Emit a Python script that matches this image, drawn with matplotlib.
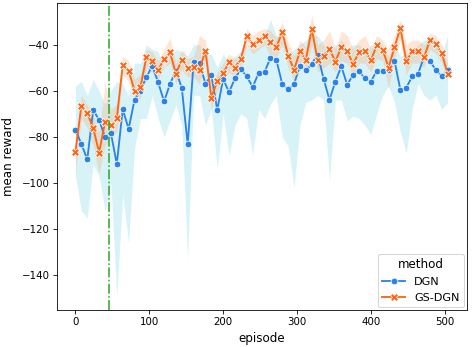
import numpy as np
import matplotlib
matplotlib.use("Agg")
import matplotlib.pyplot as plt

# episodes sampled every 8
episodes = np.arange(0, 505, 8)

# DGN mean / band
dgn_mean = [-77, -83, -89.7, -68.3, -72.6, -80, -78.4, -91.7, -68, -76.5,
            -63.9, -59.9, -54.2, -49.1, -56.4, -64.6, -57.1, -51.3, -58.8, -83.2,
            -47.7, -48, -57, -53.2, -68.3, -54.9, -60.6, -54.6, -50.6, -53.8,
            -58.4, -52.3, -51.9, -45.8, -46.5, -57.1, -59.3, -57, -49.4, -51.2,
            -48.3, -44.3, -54.8, -63.9, -56, -49.4, -57.4, -53, -51.6, -54.6,
            -56, -51.3, -51.3, -51, -47, -59.6, -58.6, -53.8, -52.6, -45.4,
            -47.2, -50.9, -53.8, -50.9]
dgn_low = [-97, -112, -115, -92, -97, -112, -100, -149, -105, -126,
           -85, -72, -72, -62, -72, -80, -73, -66, -75, -133,
           -62, -62, -75, -68, -94, -70, -88, -75, -70, -72,
           -88, -68, -72, -66, -62, -80, -84, -102, -75, -65,
           -64, -62, -64, -99, -64, -64, -73, -71, -72, -75,
           -79, -70, -62, -58, -65, -78, -87, -68, -57, -62,
           -64, -62, -68, -65]
dgn_high = [-58, -56, -62, -55, -60, -66, -60, -56, -57, -62,
            -48, -48, -40, -42, -43, -50, -45, -42, -43, -45,
            -40, -40, -44, -44, -50, -44, -48, -45, -43, -40,
            -42, -41, -36, -29, -36, -38, -44, -42, -40, -38,
            -36, -36, -40, -42, -40, -38, -42, -40, -40, -43,
            -40, -40, -40, -45, -40, -45, -44, -42, -40, -38,
            -38, -40, -44, -36]

# GS-DGN mean / band
gs_mean = [-86.4, -66.4, -69.7, -76, -86.8, -73.6, -74.9, -72, -48.8, -51.3,
           -59.9, -58.4, -45.5, -47.2, -51, -46.2, -43.2, -52.6, -46.5, -50,
           -49.7, -50.9, -42.6, -63, -55.7, -52.3, -47.7, -49.9, -46.2, -36.4,
           -39.7, -38.1, -36.4, -39, -41.2, -34.5, -44.8, -50.9, -42.9, -46.5,
           -33.2, -46.8, -44.8, -41.9, -47.4, -41, -42.9, -48.4, -43.3, -42.6,
           -46.8, -40.3, -42.2, -49.9, -41.2, -32.7, -47.2, -42.9, -42.9, -45.4,
           -38.1, -39.7, -43.6, -52.7]
gs_low = [-96, -72, -76, -84, -96, -84, -80, -78, -53, -56,
          -64, -63, -50, -52, -55, -50, -48, -57, -51, -54,
          -54, -57, -47, -68, -60, -56, -52, -54, -50, -40,
          -44, -42, -40, -45, -46, -40, -50, -56, -48, -52,
          -40, -52, -50, -48, -52, -47, -48, -54, -48, -48,
          -52, -46, -47, -59, -46, -38, -53, -48, -48, -50,
          -42, -44, -48, -56]
gs_high = [-83, -62, -66, -70, -78, -57, -68, -66, -45, -47,
           -55, -53, -42, -43, -47, -42, -37, -48, -42, -46,
           -45, -36, -38, -58, -52, -48, -44, -46, -43, -33,
           -36, -34, -33, -34, -37, -30, -39, -45, -38, -41,
           -27, -40, -38, -34, -42, -34, -36, -42, -38, -36,
           -42, -36, -38, -42, -36, -29, -40, -38, -38, -40,
           -35, -36, -40, -48]

switch_episode = 45

blue = "#2b83e8"
orange = "#ff6410"

# the reference looks like a 100dpi figure shrunk to ~74%
fig, ax = plt.subplots(figsize=(473 / 74, 347 / 74), dpi=74)
fig.subplots_adjust(left=0.1205, right=0.987, top=0.991, bottom=0.1066)

ax.fill_between(episodes, dgn_low, dgn_high, color="#7fd9ea", alpha=0.3, linewidth=0)
ax.fill_between(episodes, gs_low, gs_high, color="#ff9a5a", alpha=0.25, linewidth=0)

ax.plot(episodes, dgn_mean, color=blue, lw=1.8, marker="o", ms=6.5,
        mec="white", mew=0.75, label="DGN")
ax.plot(episodes, gs_mean, color=orange, lw=1.8, marker="X", ms=7,
        mec="white", mew=0.75, label="GS-DGN")

ax.axvline(switch_episode, color="#2aa52a", ls="-.", lw=1.5)

ax.set_xlim(-25, 530)
ax.set_ylim(-155, -22)
ax.set_xticks([0, 100, 200, 300, 400, 500])
ax.set_yticks([-140, -120, -100, -80, -60, -40])
ax.tick_params(labelsize=10)
ax.set_xlabel("episode", fontsize=11.5, labelpad=5)
ax.set_ylabel("mean reward", fontsize=11.5, labelpad=7)
ax.legend(title="method", loc="lower right", fontsize=11, title_fontsize=11.5,
          borderaxespad=0.25)

fig.savefig("out.png", dpi=74)
